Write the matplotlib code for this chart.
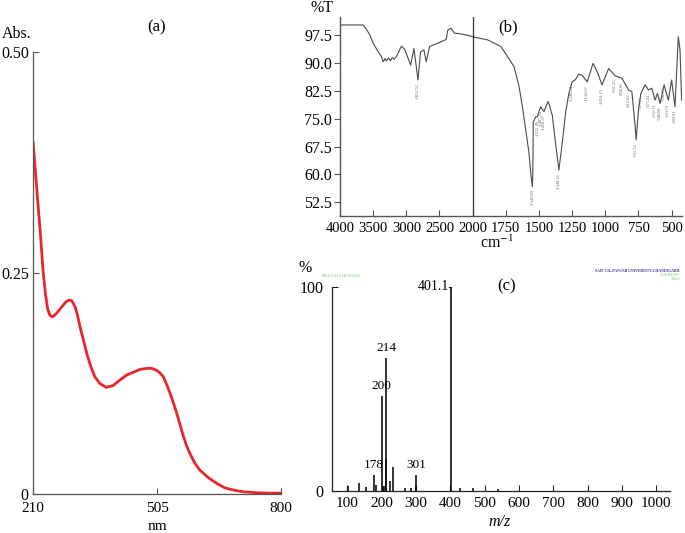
import numpy as np
import matplotlib
matplotlib.use("Agg")
import matplotlib.pyplot as plt

plt.rcParams['font.family'] = ['Liberation Serif', 'DejaVu Serif']
plt.rcParams['mathtext.fontset'] = 'stix'

# ---------------- data ----------------
# (a) UV-Vis
uv_wavelength = [210, 216, 222, 228, 234, 240, 245, 250, 255, 260, 266, 274, 282, 289, 296,
                 302, 310, 316, 322, 330, 338, 347, 357, 369, 384, 400, 417, 433, 450, 465,
                 480, 492, 504, 512, 520, 528, 536, 544, 552, 560, 568, 575, 583, 595, 607,
                 627, 647, 666, 686, 710, 740, 770, 800]
uv_absorbance = [0.399, 0.363, 0.327, 0.292, 0.252, 0.225, 0.209, 0.2025, 0.2005, 0.2015,
                 0.2044, 0.209, 0.2138, 0.2175, 0.2195, 0.2187, 0.212, 0.202, 0.189, 0.174,
                 0.159, 0.145, 0.1327, 0.125, 0.1207, 0.1225, 0.129, 0.1346, 0.138, 0.141,
                 0.142, 0.1422, 0.140, 0.137, 0.1327, 0.124, 0.114, 0.103, 0.0913, 0.078,
                 0.0648, 0.055, 0.046, 0.035, 0.027, 0.0185, 0.012, 0.007, 0.0045, 0.0025,
                 0.0015, 0.001, 0.001]
uv_xticks = [210, 505, 800]
uv_yticks = [0, 0.25, 0.50]
uv_yticklabels = ['0', '0.25', '0.50']

# (b) FT-IR
ir_wavenumber = [4000, 3800, 3650, 3600, 3550, 3500, 3425, 3375, 3350, 3320, 3300, 3270, 3240,
                 3210, 3180, 3150, 3075, 3025, 2935, 2885, 2825, 2785, 2735, 2700, 2650, 2525,
                 2400, 2375, 2325, 2275, 2175, 2025, 2000, 1888, 1787, 1737, 1688, 1650, 1625,
                 1600, 1575, 1562, 1550, 1547, 1545, 1543, 1537, 1525, 1512, 1500, 1487, 1475,
                 1462, 1445, 1432, 1420, 1412, 1400, 1375, 1350, 1325, 1300, 1275, 1250, 1225,
                 1200, 1170, 1137, 1092, 1060, 1025, 975, 925, 875, 825, 800, 775, 768, 750,
                 732, 700, 675, 650, 625, 607, 587, 557, 525, 500, 475, 450, 437, 425]
ir_transmittance = [100.2, 100.2, 100.2, 99.0, 97.5, 95.3, 93.0, 91.7, 90.3, 91.2, 90.5, 91.3,
                    90.6, 91.4, 91.0, 91.7, 94.5, 93.7, 89.4, 93.9, 85.4, 93.0, 93.5, 90.3, 94.4,
                    95.3, 96.3, 98.8, 99.3, 98.0, 97.8, 97.2, 97.0, 96.2, 94.4, 91.7, 89.0, 83.6,
                    78.2, 72.0, 65.7, 60.3, 56.7, 60.0, 66.0, 74.2, 74.5, 75.5, 75.5, 77.0, 78.2,
                    77.5, 76.9, 78.5, 79.6, 78.5, 77.3, 76.0, 68.4, 61.2, 68.4, 76.5, 81.8, 84.9,
                    85.5, 87.0, 86.5, 84.9, 89.9, 87.5, 84.1, 88.5, 86.5, 85.9, 82.7, 82.3, 72.9,
                    69.3, 77.3, 81.8, 84.1, 82.7, 83.2, 80.0, 81.8, 79.1, 84.1, 80.0, 85.4, 78.2,
                    97.0, 93.5, 80.0]
ir_xticks = [4000, 3500, 3000, 2500, 2000, 1750, 1500, 1250, 1000, 750, 500]
ir_yticks = [52.5, 60.0, 67.5, 75.0, 82.5, 90.0, 97.5]
ir_peak_pos = [2825, 1550, 1512, 1487, 1462, 1350, 1250, 1137, 1025, 925, 875, 825, 768,
               732, 675, 625, 587, 557, 525, 475]
ir_peak_labels = ['2851.52', '1549.80', '1512.40', '1487.28', '1458.37', '1348.16', '1248.14',
                  '1134.07', '1024.13', '931.23', '858.85', '815.83', '761.52', '727.10',
                  '671.41', '632.11', '580.08', '556.60', '523.71', '459.81']

# (c) Mass spectrum
ms_mz = [103, 135, 156, 178, 184, 200, 203, 208, 212, 214, 224, 234, 268, 287, 299, 301,
         401.1, 430, 467, 539]
ms_intensity = [2.5, 3.9, 1.8, 7.8, 2.7, 46.6, 2.0, 2.6, 15.7, 65.2, 4.9, 11.6, 1.3, 1.3,
                2.5, 7.8, 100.0, 1.3, 1.5, 0.8]
ms_labeled = {'178': 178, '200': 200, '214': 214, '301': 301}
ms_xticks = [100, 200, 300, 400, 500, 600, 700, 800, 900, 1000]

# ---------------- figure ----------------
W, H = 685, 533
fig = plt.figure(figsize=(W / 100, H / 100), dpi=100)


def box(l, t, r, b):
    return [l / W, 1 - b / H, (r - l) / W, (b - t) / H]


def ftext(x, y, s, **kw):
    fig.text(x / W, 1 - y / H, s, **kw)


FS = 11.5
FSX = 10.5
axis_col = '#555555'

# ---- (a) ----
axa = fig.add_axes(box(33, 52, 281, 494))
axa.plot(uv_wavelength, uv_absorbance, color='#e8262b', lw=2.0, solid_capstyle='round')
axa.set_xlim(210, 800)
axa.set_ylim(0, 0.5)
for s in ['top', 'right']:
    axa.spines[s].set_visible(False)
for s in ['left', 'bottom']:
    axa.spines[s].set_color(axis_col)
    axa.spines[s].set_linewidth(0.9)
axa.set_xticks(uv_xticks)
axa.set_xticklabels([str(v) for v in uv_xticks])
axa.set_yticks(uv_yticks)
axa.set_yticklabels(uv_yticklabels)
axa.tick_params(axis='both', direction='in', length=4, width=0.8, color=axis_col,
                labelsize=FS)
axa.tick_params(axis='x', pad=6, labelsize=11)
axa.tick_params(axis='y', pad=3)
ftext(2, 34, 'Abs.', fontsize=FS, ha='left', va='center')
ftext(157, 27, '(a)', fontsize=12, ha='center', va='center')
ftext(157, 526, 'nm', fontsize=11, ha='center', va='center')

# ---- (b) ----
axb = fig.add_axes(box(340, 17, 682, 216))


def fwd(x):
    x = np.asarray(x, dtype=float)
    return np.where(x > 2000, 2000 + (x - 2000) / 2.0, x)


def inv(u):
    u = np.asarray(u, dtype=float)
    return np.where(u > 2000, 2000 + (u - 2000) * 2.0, u)


axb.set_xscale('function', functions=(fwd, inv))
axb.plot(ir_wavenumber, ir_transmittance, color='#4a4a4a', lw=0.8)
axb.axvline(2000, color='#333333', lw=0.9)
axb.set_xlim(4000, 422)
axb.set_ylim(48.84, 102.34)
for s in ['top', 'right']:
    axb.spines[s].set_visible(False)
for s in ['left', 'bottom']:
    axb.spines[s].set_color(axis_col)
    axb.spines[s].set_linewidth(1.0)
axb.set_xticks(ir_xticks)
axb.set_xticklabels([str(v) for v in ir_xticks])
axb.minorticks_off()
axb.set_yticks(ir_yticks)
axb.set_yticklabels(['%.1f' % v for v in ir_yticks])
axb.tick_params(axis='x', direction='in', length=4, width=0.8, color=axis_col,
                labelsize=FSX, pad=4)
axb.tick_params(axis='y', direction='out', length=4, width=0.8, color=axis_col,
                labelsize=FS, pad=1.5)
ir_T = dict(zip(ir_wavenumber, ir_transmittance))
for pos, lab in zip(ir_peak_pos, ir_peak_labels):
    axb.text(pos, ir_T[pos] - 0.8, '-' + lab, rotation=90, fontsize=3.2, color='#666666',
             ha='center', va='top')
ftext(322, 8, '%T', fontsize=FS, ha='center', va='center')
ftext(508, 27, '(b)', fontsize=12, ha='center', va='center')
ftext(497, 243, r'cm$^{-1}$', fontsize=FS, ha='center', va='center')

# ---- (c) ----
axc = fig.add_axes(box(331.7, 286.7, 670, 491))
axc.vlines(ms_mz, 0, ms_intensity, color='#111111', lw=1.2)
axc.set_xlim(55, 1040)
axc.set_ylim(0, 100)
for s in ['top', 'right']:
    axc.spines[s].set_visible(False)
for s in ['left', 'bottom']:
    axc.spines[s].set_color('#222222')
    axc.spines[s].set_linewidth(0.9)
axc.set_xticks(ms_xticks)
axc.set_xticklabels([str(v) for v in ms_xticks])
axc.set_yticks([0, 100])
axc.set_yticklabels(['0', '100'])
axc.tick_params(axis='x', direction='in', length=4, width=0.8, color='#222222',
                labelsize=FSX + 0.5, pad=4)
axc.tick_params(axis='y', direction='in', length=4, width=0.8, color='#222222',
                labelsize=FS, pad=6)
ms_I = dict(zip(ms_mz, ms_intensity))
for lab, pos in ms_labeled.items():
    axc.text(pos, ms_I[pos] + 2, lab, fontsize=9.5, ha='center', va='bottom')
axc.plot([396, 401.1], [100, 100], color='#111111', lw=0.9)
axc.text(397, 100, '401.1', fontsize=10, ha='right', va='center')
ftext(305, 268, '%', fontsize=FS, ha='center', va='center')
ftext(507, 286, '(c)', fontsize=12, ha='center', va='center')
ftext(500, 522, 'm/z', fontsize=FS, ha='center', va='center', style='italic')
ftext(322, 275, 'MKU D 13.0 146.04 (828)', fontsize=2.6, color='#6cc46a', ha='left',
      va='center')
ftext(680, 271, 'SAIF CIL,PANJAB UNIVERSITY,CHANDIGARH', fontsize=2.8, color='#3a3a9a',
      ha='right', va='center', weight='bold')
ftext(680, 275.5, 'TOF MS ES+', fontsize=2.6, color='#6cc46a', ha='right', va='center')
ftext(680, 279, '3.36e3', fontsize=2.6, color='#6cc46a', ha='right', va='center')

fig.savefig('out.png', dpi=100)
